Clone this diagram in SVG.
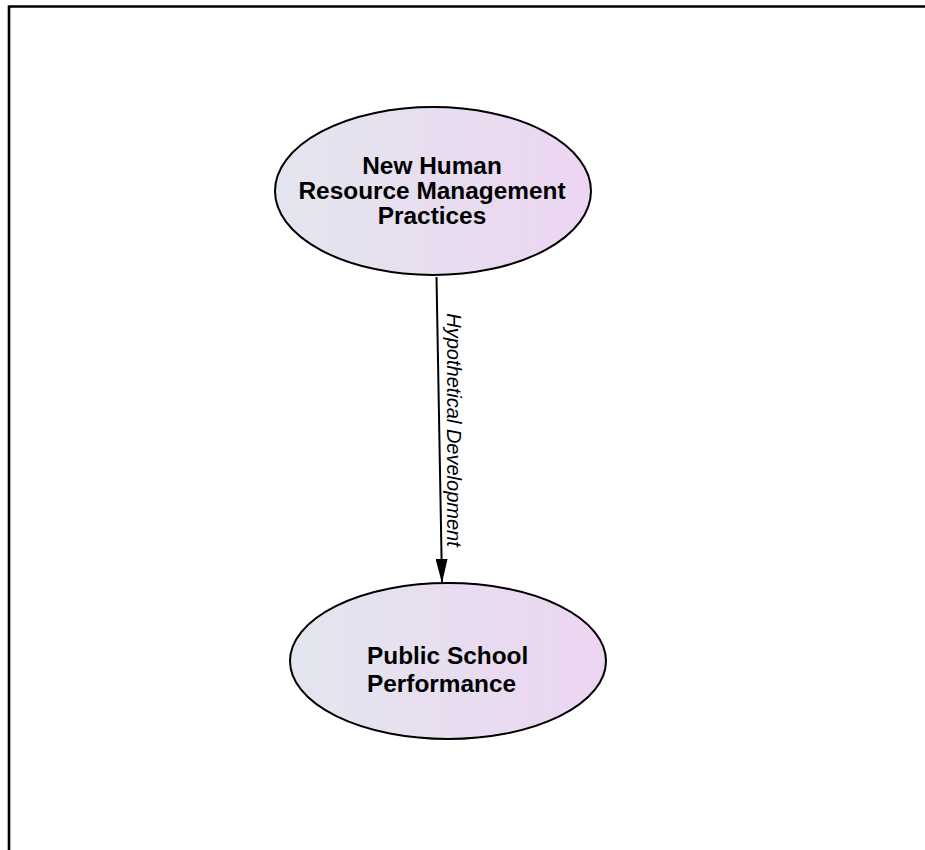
<svg xmlns="http://www.w3.org/2000/svg" width="925" height="850" viewBox="0 0 925 850">
<defs>
<linearGradient id="g" x1="0" y1="0" x2="1" y2="0">
<stop offset="0" stop-color="#e3e6ee"/>
<stop offset="1" stop-color="#edd5f2"/>
</linearGradient>
<marker id="arr" markerWidth="24" markerHeight="12" refX="24" refY="6" orient="auto" markerUnits="userSpaceOnUse" viewBox="0 0 24 12">
<path d="M0,0 L24,6 L0,12 Z" fill="#000"/>
</marker>
<style>
.node{fill:url(#g);stroke:#000;stroke-width:2}
.lbl{font-family:"Liberation Sans",Arial,sans-serif;font-weight:bold;font-size:24.4px;fill:#000}
.edge{stroke:#000;stroke-width:2;fill:none}
.elbl{font-family:"Liberation Sans",Arial,sans-serif;font-style:italic;font-size:20px;fill:#000}
</style>
</defs>
<rect width="925" height="850" fill="#fff"/>
<path d="M9,850 V6.5 H925" fill="none" stroke="#000" stroke-width="2.6"/>
<g id="connectors">
<line class="edge" x1="436.5" y1="277" x2="442" y2="583" marker-end="url(#arr)"/>
<text class="elbl" transform="translate(447,430) rotate(90)" text-anchor="middle">Hypothetical Development</text>
</g>
<g id="node-hrm">
<ellipse class="node" cx="433" cy="191" rx="158" ry="84"/>
<text class="lbl" text-anchor="middle"><tspan x="432" y="174">New Human</tspan><tspan x="432" y="199">Resource Management</tspan><tspan x="432" y="224">Practices</tspan></text>
</g>
<g id="node-psp">
<ellipse class="node" cx="448" cy="661" rx="158" ry="78"/>
<text class="lbl"><tspan x="367" y="664">Public School</tspan><tspan x="367" y="692">Performance</tspan></text>
</g>
</svg>
